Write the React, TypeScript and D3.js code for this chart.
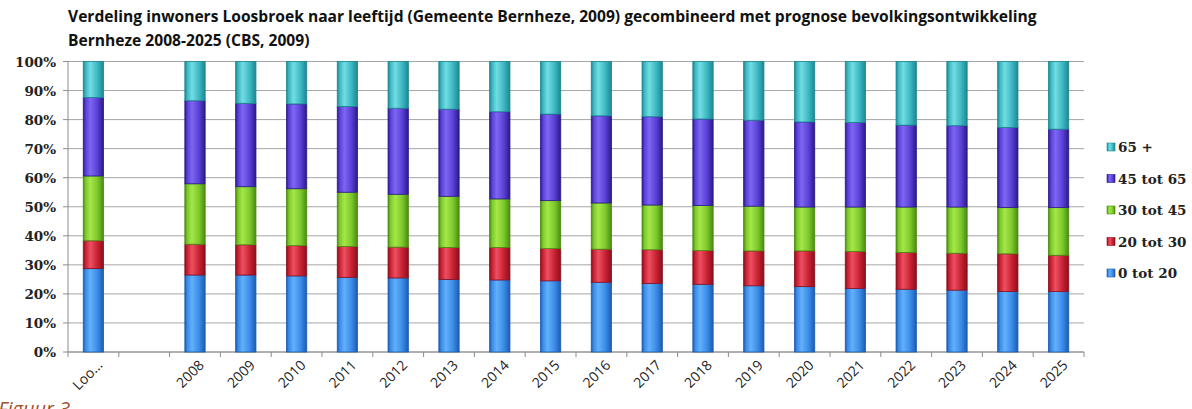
import React from "react";
import * as d3 from "d3";

// categories (second slot is an empty spacer in the original chart)
const categories = ["Loo...", "", "2008", "2009", "2010", "2011", "2012", "2013", "2014", "2015", "2016", "2017", "2018", "2019", "2020", "2021", "2022", "2023", "2024", "2025"];

// percentages per age group
const age0to20 = [28.7, 0, 26.5, 26.5, 26.2, 25.7, 25.5, 25.0, 24.8, 24.5, 24.0, 23.6, 23.3, 22.8, 22.5, 21.9, 21.6, 21.3, 20.8, 20.8];
const age20to30 = [9.6, 0, 10.6, 10.4, 10.4, 10.6, 10.6, 11.0, 11.2, 11.1, 11.4, 11.6, 11.6, 12.0, 12.3, 12.7, 12.7, 12.7, 13.0, 12.5];
const age30to45 = [22.3, 0, 20.8, 20.0, 19.6, 18.7, 18.2, 17.6, 16.7, 16.5, 15.9, 15.4, 15.5, 15.4, 15.1, 15.3, 15.6, 15.9, 15.9, 16.4];
const age45to65 = [27.0, 0, 28.6, 28.7, 29.2, 29.5, 29.6, 30.0, 30.0, 29.8, 30.0, 30.4, 29.8, 29.6, 29.3, 29.1, 28.2, 28.0, 27.6, 27.0];
const age65plus = [12.4, 0, 13.5, 14.4, 14.6, 15.5, 16.1, 16.4, 17.3, 18.1, 18.7, 19.0, 19.8, 20.2, 20.8, 21.0, 21.9, 22.1, 22.7, 23.3];

const seriesKeys = ["0 tot 20", "20 tot 30", "30 tot 45", "45 tot 65", "65 +"];
const yTicks = [0, 0.1, 0.2, 0.3, 0.4, 0.5, 0.6, 0.7, 0.8, 0.9, 1];

const palette: Record<string, string[]> = {
  // dark, light, base
  "0 tot 20": ["#1d5bb0", "#63b0fa", "#3a8ce8"],
  "20 tot 30": ["#8a0f1e", "#ec5062", "#c82131"],
  "30 tot 45": ["#4a8a10", "#a6e648", "#7cc92c"],
  "45 tot 65": ["#2a1a88", "#7e66f2", "#5a3fd6"],
  "65 +": ["#1c8791", "#72dde2", "#3db7c3"],
};

const margin = { top: 61.5, left: 68, right: 108, bottom: 57 };
const W = 1192;
const H = 409;

export default function App() {
  const rows = categories.map((c, i) => ({
    cat: c,
    "0 tot 20": age0to20[i],
    "20 tot 30": age20to30[i],
    "30 tot 45": age30to45[i],
    "45 tot 65": age45to65[i],
    "65 +": age65plus[i],
  }));

  const stacked = d3.stack<any>().keys(seriesKeys).offset(d3.stackOffsetExpand)(rows);

  const x = d3
    .scaleBand()
    .domain(categories.map((c, i) => i + ""))
    .range([margin.left, W - margin.right])
    .paddingInner(0.6)
    .paddingOuter(0.3);
  const y = d3.scaleLinear().domain([0, 1]).range([352, margin.top]);

  const step = x.step();
  const tickXs = d3.range(categories.length + 1).map((i) => margin.left + i * step);
  const fmt = d3.format(".0%");

  return (
    <svg width={W} height={H} style={{ position: "absolute", left: 0, top: 0, background: "#fff" }}>
      <defs>
        {seriesKeys.map((k, i) => (
          <linearGradient key={k} id={"g" + i} x1="0" x2="1" y1="0" y2="0">
            <stop offset="0" stopColor={palette[k][0]} />
            <stop offset="0.12" stopColor={palette[k][2]} />
            <stop offset="0.35" stopColor={palette[k][1]} />
            <stop offset="0.7" stopColor={palette[k][2]} />
            <stop offset="1" stopColor={palette[k][0]} />
          </linearGradient>
        ))}
      </defs>

      <text x={68} y={22} fontFamily="Open Sans, sans-serif" fontWeight="bold" fontSize={15.6} fill="#111">
        Verdeling inwoners Loosbroek naar leeftijd (Gemeente Bernheze, 2009) gecombineerd met prognose bevolkingsontwikkeling
      </text>
      <text x={68} y={46} fontFamily="Open Sans, sans-serif" fontWeight="bold" fontSize={15.6} fill="#111">
        Bernheze 2008-2025 (CBS, 2009)
      </text>

      {/* gridlines + y axis */}
      {yTicks.map((t) => (
        <g key={t}>
          <line x1={margin.left} x2={tickXs[tickXs.length - 1]} y1={y(t)} y2={y(t)} stroke="#a6a6a6" strokeWidth={1} />
          <line x1={margin.left - 5} x2={margin.left} y1={y(t)} y2={y(t)} stroke="#8c8c8c" />
          <text x={56} y={y(t) + 5} textAnchor="end" fontFamily="DejaVu Serif, serif" fontWeight="bold" fontSize={13.5} fill="#222">
            {fmt(t)}
          </text>
        </g>
      ))}
      <line x1={margin.left} x2={margin.left} y1={y(1)} y2={y(0)} stroke="#8c8c8c" />
      <line x1={margin.left} x2={tickXs[tickXs.length - 1]} y1={y(0)} y2={y(0)} stroke="#8c8c8c" />
      {tickXs.map((tx, i) => (
        <line key={i} x1={tx} x2={tx} y1={y(0)} y2={y(0) + 5} stroke="#8c8c8c" />
      ))}

      {/* bars */}
      {stacked.map((s, si) => (
        <g key={s.key}>
          {s.map((d, i) =>
            rows[i][s.key as string] > 0 ? (
              <rect
                key={i}
                x={x(i + "")}
                width={x.bandwidth()}
                y={y(d[1])}
                height={y(d[0]) - y(d[1])}
                fill={`url(#g${si})`}
                stroke={palette[s.key as string][0]}
                strokeWidth={0.8}
              />
            ) : null
          )}
        </g>
      ))}

      {/* x labels */}
      {categories.map((c, i) =>
        c ? (
          <text
            key={i}
            transform={`translate(${(x(i + "") as number) + x.bandwidth() / 2 + 10},${366}) rotate(-45)`}
            textAnchor="end"
            fontFamily="Open Sans, sans-serif"
            fontSize={14}
            fill="#222"
          >
            {c}
          </text>
        ) : null
      )}

      {/* legend */}
      {seriesKeys
        .slice()
        .reverse()
        .map((k, i) => {
          const ly = 147 + i * 31.5;
          const si = seriesKeys.indexOf(k);
          return (
            <g key={k}>
              <rect x={1107} y={ly - 4} width={8} height={8} fill={`url(#g${si})`} stroke={palette[k][0]} strokeWidth={0.6} />
              <text x={1118} y={ly + 5} fontFamily="DejaVu Serif, serif" fontWeight="bold" fontSize={13.5} fill="#222">
                {k}
              </text>
            </g>
          );
        })}

      <text x={-2} y={416} fontFamily="Open Sans, sans-serif" fontStyle="italic" fontSize={20} fill="#a0522d">
        Figuur 3
      </text>
    </svg>
  );
}
